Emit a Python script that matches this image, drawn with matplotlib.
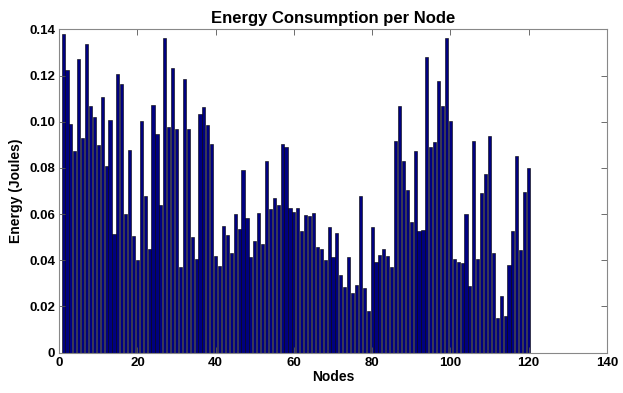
import matplotlib
matplotlib.use('Agg')
import matplotlib.pyplot as plt
import numpy as np

plt.rcParams['font.family'] = ['Liberation Sans', 'DejaVu Sans']

# node number and energy per node (Joules)
nodes = np.arange(1, 121)
energy = [
    0.1380, 0.1224, 0.0991, 0.0873, 0.1274, 0.0928, 0.1335, 0.1068, 0.1020, 0.0899,
    0.1106, 0.0807, 0.1007, 0.0515, 0.1208, 0.1165, 0.0599, 0.0876, 0.0505, 0.0401,
    0.1003, 0.0678, 0.0449, 0.1072, 0.0948, 0.0639, 0.1365, 0.0976, 0.1235, 0.0967,
    0.0372, 0.1186, 0.0970, 0.0502, 0.0406, 0.1035, 0.1062, 0.0986, 0.0902, 0.0420,
    0.0374, 0.0547, 0.0508, 0.0430, 0.0602, 0.0535, 0.0792, 0.0584, 0.0413, 0.0482,
    0.0603, 0.0472, 0.0831, 0.0622, 0.0668, 0.0641, 0.0903, 0.0889, 0.0626, 0.0609,
    0.0626, 0.0528, 0.0595, 0.0592, 0.0603, 0.0459, 0.0447, 0.0400, 0.0546, 0.0413,
    0.0520, 0.0338, 0.0283, 0.0416, 0.0257, 0.0293, 0.0680, 0.0281, 0.0182, 0.0543,
    0.0394, 0.0421, 0.0450, 0.0417, 0.0372, 0.0918, 0.1068, 0.0828, 0.0706, 0.0567,
    0.0872, 0.0528, 0.0531, 0.1279, 0.0889, 0.0914, 0.1178, 0.1068, 0.1364, 0.1004,
    0.0404, 0.0393, 0.0390, 0.0602, 0.0287, 0.0916, 0.0404, 0.0693, 0.0772, 0.0940,
    0.0433, 0.0150, 0.0247, 0.0160, 0.0378, 0.0525, 0.0853, 0.0443, 0.0696, 0.0800,
]
xtick_vals = np.arange(0, 141, 20)
ytick_vals = np.arange(0, 0.141, 0.02)
ytick_labels = ['0', '0.02', '0.04', '0.06', '0.08', '0.10', '0.12', '0.14']

fig = plt.figure(figsize=(6.23, 3.93), dpi=100)
ax = fig.add_axes([0.095, 0.103, 0.879, 0.822])

ax.bar(nodes, energy, width=0.8, color='#000080', edgecolor='black', linewidth=0.4)

ax.set_xlim(0, 140)
ax.set_ylim(0, 0.14)
ax.set_xticks(xtick_vals)
ax.set_yticks(ytick_vals)
ax.set_yticklabels(ytick_labels)
ax.tick_params(direction='in', top=True, right=True, length=4, width=0.6,
               color='#555555', labelsize=9.5, pad=3)
for lab in ax.get_xticklabels() + ax.get_yticklabels():
    lab.set_fontweight('bold')
for sp in ax.spines.values():
    sp.set_color('#888888')
    sp.set_linewidth(0.8)

ax.set_title('Energy Consumption per Node', fontsize=12, fontweight='bold', pad=5)
ax.set_xlabel('Nodes', fontsize=10, fontweight='bold', labelpad=1)
ax.set_ylabel('Energy (Joules)', fontsize=10, fontweight='bold', labelpad=4)

fig.savefig('out.png', dpi=100)
